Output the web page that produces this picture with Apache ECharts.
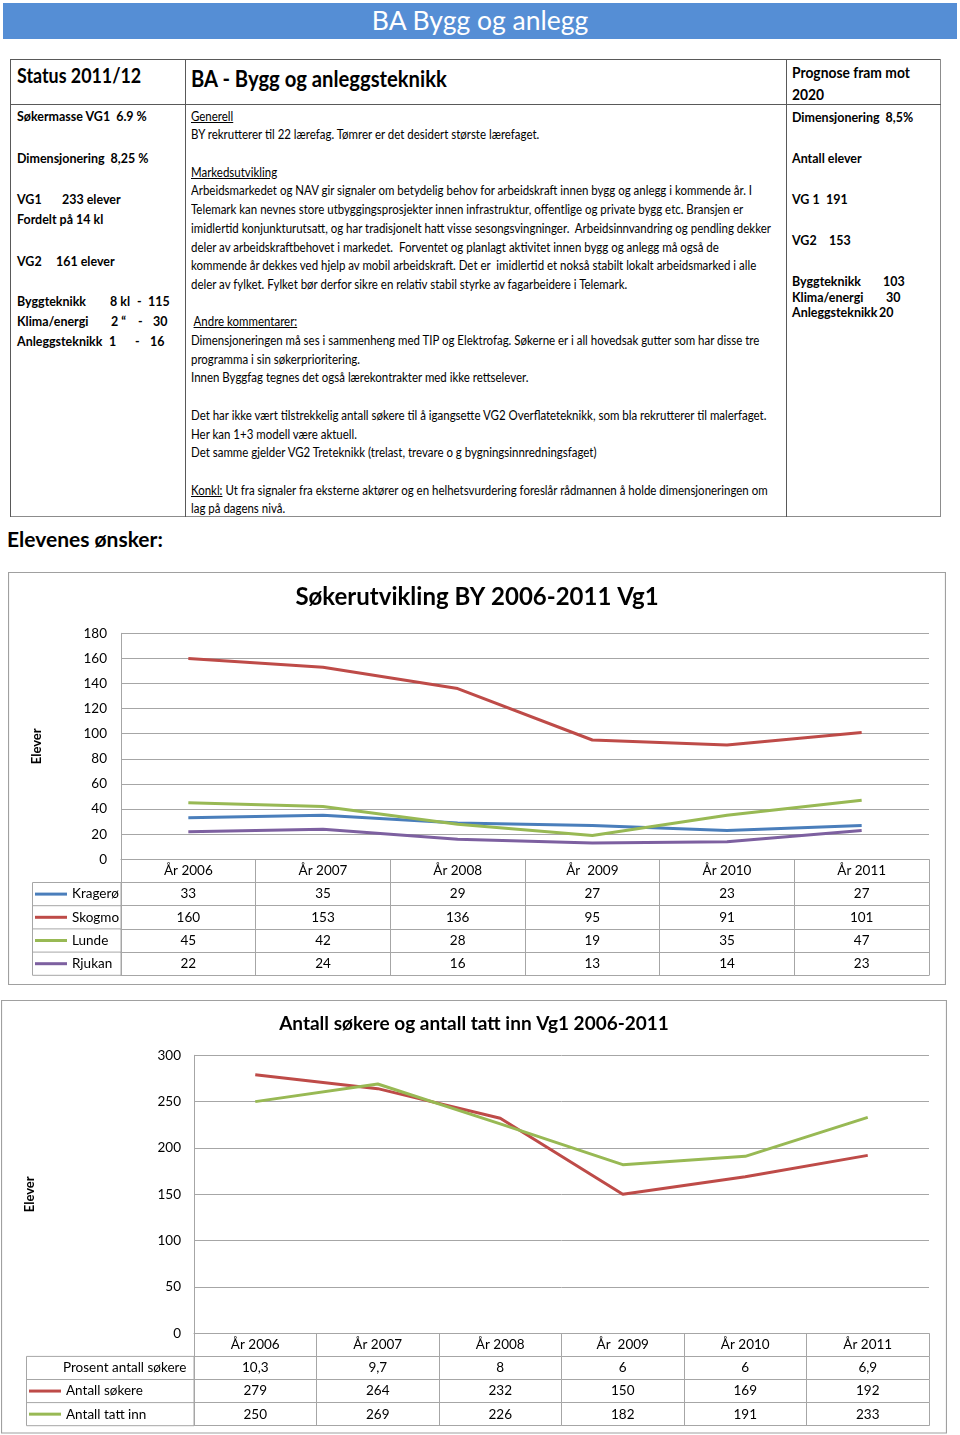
<!DOCTYPE html>
<html><head><meta charset="utf-8">
<script src="https://cdn.jsdelivr.net/npm/echarts@6/dist/echarts.min.js"></script>
<style>
html,body{margin:0;padding:0;background:#fff;}
body{width:960px;height:1435px;position:relative;overflow:hidden;}
.t{position:absolute;white-space:nowrap;font-family:Lato,'DejaVu Sans Condensed',sans-serif;color:#000;line-height:20px;height:20px;}
.b{font-weight:bold;font-size:13.8px;}
.ln{position:absolute;background:#595959;}
.mid{position:absolute;left:191px;top:106.65px;white-space:pre;font-family:Lato,'DejaVu Sans Condensed',sans-serif;font-size:13.5px;line-height:18.7px;color:#000;}
.u{text-decoration:underline;}
#banner{position:absolute;left:3px;top:3px;width:954px;height:36px;background:#558ED5;color:#fff;font-family:Lato,sans-serif;font-size:26.5px;line-height:35px;text-align:center;}
#c1{position:absolute;left:8px;top:572px;width:938px;height:413px;}
#c2{position:absolute;left:1px;top:1000px;width:946px;height:434px;}
</style>
</head><body>
<div id="banner">BA Bygg og anlegg</div>

<!-- info table borders -->
<div class="ln" style="left:10px;top:59px;width:931px;height:1px;"></div>
<div class="ln" style="left:10px;top:516px;width:931px;height:1px;background:#8c8c8c"></div>
<div class="ln" style="left:10px;top:59px;width:1px;height:458px;"></div>
<div class="ln" style="left:940px;top:59px;width:1px;height:458px;background:#8c8c8c"></div>
<div class="ln" style="left:185px;top:59px;width:1px;height:458px;"></div>
<div class="ln" style="left:786px;top:59px;width:1px;height:458px;"></div>
<div class="ln" style="left:10px;top:104px;width:931px;height:1px;"></div>

<!-- headers -->
<div class="t" id="hStatus" style="left:17px;top:62px;height:26px;line-height:26px;font-weight:bold;font-size:21px;">Status 2011/12</div>
<div class="t" id="hBA" style="left:191px;top:64px;height:28px;line-height:28px;font-weight:bold;font-size:23px;">BA - Bygg og anleggsteknikk</div>
<div class="t" id="hProg" style="left:792px;top:61px;height:44px;line-height:22px;font-weight:bold;font-size:15.5px;">Prognose fram mot<br>2020</div>

<!-- left column -->
<div class="t b" id="refB" style="left:17px;top:106px;">Søkermasse VG1&nbsp; 6.9 %</div>
<div class="t b" style="left:17px;top:148px;">Dimensjonering&nbsp; 8,25 %</div>
<div class="t b" style="left:17px;top:189px;">VG1</div><div class="t b" style="left:62px;top:189px;">233 elever</div>
<div class="t b" style="left:17px;top:209px;">Fordelt på 14 kl</div>
<div class="t b" style="left:17px;top:251px;">VG2</div><div class="t b" style="left:56px;top:251px;">161 elever</div>
<div class="t b" style="left:17px;top:291px;">Byggteknikk</div><div class="t b" style="left:110px;top:291px;">8 kl</div><div class="t b" style="left:137px;top:291px;">-</div><div class="t b" style="left:148px;top:291px;">115</div>
<div class="t b" style="left:17px;top:311px;">Klima/energi</div><div class="t b" style="left:111px;top:311px;">2 “</div><div class="t b" style="left:138px;top:311px;">-</div><div class="t b" style="left:153px;top:311px;">30</div>
<div class="t b" style="left:17px;top:331px;">Anleggsteknikk</div><div class="t b" style="left:109px;top:331px;">1</div><div class="t b" style="left:135px;top:331px;">-</div><div class="t b" style="left:150px;top:331px;">16</div>

<!-- middle column -->
<div class="mid" id="mid"><span class="u">Generell</span>
BY rekrutterer til 22 lærefag. Tømrer er det desidert største lærefaget.

<span class="u">Markedsutvikling</span>
<span id="refMid">Arbeidsmarkedet og NAV gir signaler om betydelig behov for arbeidskraft innen bygg og anlegg i kommende år. I</span>
Telemark kan nevnes store utbyggingsprosjekter innen infrastruktur, offentlige og private bygg etc. Bransjen er
imidlertid konjunkturutsatt, og har tradisjonelt hatt visse sesongsvingninger.  Arbeidsinnvandring og pendling dekker
deler av arbeidskraftbehovet i markedet.  Forventet og planlagt aktivitet innen bygg og anlegg må også de
kommende år dekkes ved hjelp av mobil arbeidskraft. Det er  imidlertid et nokså stabilt lokalt arbeidsmarked i alle
deler av fylket. Fylket bør derfor sikre en relativ stabil styrke av fagarbeidere i Telemark.

 <span class="u">Andre kommentarer:</span>
Dimensjoneringen må ses i sammenheng med TIP og Elektrofag. Søkerne er i all hovedsak gutter som har disse tre
programma i sin søkerprioritering.
Innen Byggfag tegnes det også lærekontrakter med ikke rettselever.

Det har ikke vært tilstrekkelig antall søkere til å igangsette VG2 Overflateteknikk, som bla rekrutterer til malerfaget.
Her kan 1+3 modell være aktuell.
Det samme gjelder VG2 Treteknikk (trelast, trevare o g bygningsinnredningsfaget)

<span class="u">Konkl:</span> Ut fra signaler fra eksterne aktører og en helhetsvurdering foreslår rådmannen å holde dimensjoneringen om
lag på dagens nivå.</div>

<!-- right column -->
<div class="t b" style="left:792px;top:107px;">Dimensjonering&nbsp; 8,5%</div>
<div class="t b" style="left:792px;top:148px;">Antall elever</div>
<div class="t b" style="left:792px;top:189px;">VG 1</div><div class="t b" style="left:826px;top:189px;">191</div>
<div class="t b" style="left:792px;top:230px;">VG2</div><div class="t b" style="left:829px;top:230px;">153</div>
<div class="t b" style="left:792px;top:271px;">Byggteknikk</div><div class="t b" style="left:883px;top:271px;">103</div>
<div class="t b" style="left:792px;top:286.5px;">Klima/energi</div><div class="t b" style="left:886px;top:286.5px;">30</div>
<div class="t b" style="left:792px;top:302px;">Anleggsteknikk</div><div class="t b" style="left:879px;top:302px;">20</div>

<div style="position:absolute;left:7px;top:525px;font-family:Lato,sans-serif;font-weight:bold;font-size:21px;line-height:28px;white-space:nowrap;">Elevenes ønsker:</div>

<div id="c1"></div>
<div id="c2"></div>

<script>
// ---------- data ----------
const years = ['År 2006', 'År 2007', 'År 2008', 'År  2009', 'År 2010', 'År 2011'];
const seriesNames1 = ['Kragerø', 'Skogmo', 'Lunde', 'Rjukan'];
const kragero = [33, 35, 29, 27, 23, 27];
const skogmo = [160, 153, 136, 95, 91, 101];
const lunde = [45, 42, 28, 19, 35, 47];
const rjukan = [22, 24, 16, 13, 14, 23];
const yMin1 = 0, yMax1 = 180, yStep1 = 20;

const prosentLabel = 'Prosent antall søkere';
const seriesNames2 = ['Antall søkere', 'Antall tatt inn'];
const prosent = [10.3, 9.7, 8, 6, 6, 6.9];
const antallSokere = [279, 264, 232, 150, 169, 192];
const antallTattInn = [250, 269, 226, 182, 191, 233];
const yMin2 = 0, yMax2 = 300, yStep2 = 50;

// ---------- fit narrow (Calibri-like condensed) text ----------
function fitGroup(els, refEl, target) {
  els.forEach(e => { e.style.transform = 'none'; });
  const w = refEl.offsetWidth;
  if (!w) return;
  const s = target / w;
  els.forEach(e => { e.style.transformOrigin = '0 50%'; e.style.transform = 'scaleX(' + s + ')'; });
}
function fitAll() {
  const mid = document.getElementById('mid');
  mid.style.transform = 'none';
  const wm = document.getElementById('refMid').getBoundingClientRect().width;
  if (wm) { mid.style.transformOrigin = '0 0'; mid.style.transform = 'scaleX(' + (561 / wm) + ')'; }
  fitGroup(Array.from(document.querySelectorAll('.b')), document.getElementById('refB'), 130);
  fitGroup([document.getElementById('hStatus')], document.getElementById('hStatus'), 124);
  fitGroup([document.getElementById('hBA')], document.getElementById('hBA'), 256);
  fitGroup([document.getElementById('hProg')], document.getElementById('hProg'), 118);
}
fitAll();
if (document.fonts && document.fonts.ready) document.fonts.ready.then(fitAll);

// ---------- styling ----------
const GRAY = '#a6a6a6';
const FONT = 'Lato';
const COLORS1 = ['#4A7EBB', '#BE4B48', '#98B954', '#7D60A0'];
const COLORS2 = ['#BE4B48', '#98B954'];

function tableAxis(offset, rowH, formatter, opts) {
  opts = opts || {};
  return {
    type: 'category', data: years, gridIndex: 0, position: 'bottom', offset: offset,
    boundaryGap: true, silent: true,
    axisLine: { show: true, lineStyle: { color: GRAY, width: 1 } },
    axisTick: { show: opts.tick !== false, length: rowH, interval: 0, lineStyle: { color: GRAY, width: 1 } },
    axisLabel: { show: opts.label !== false, interval: 0, margin: (rowH - 14) / 2, fontFamily: FONT, fontSize: 13.5, color: '#000', lineHeight: 14, formatter: formatter }
  };
}
function lineSeries(name, data, color) {
  return { name: name, type: 'line', data: data, symbol: 'none', smooth: false,
    lineStyle: { width: 3, color: color }, itemStyle: { color: color }, emphasis: { disabled: true } };
}

// ---------- chart 1 ----------
(function () {
  const W = 938, H = 413, ROW = 23.2;
  const gl = 113, gr = 17, gt = 61.3, gh = 226;
  const gb = H - gt - gh;
  const rows = [kragero, skogmo, lunde, rjukan];
  const xAxes = [tableAxis(0, ROW, v => v)];
  rows.forEach((r, i) => xAxes.push(tableAxis(ROW * (i + 1), ROW, (v, idx) => String(r[idx]))));
  xAxes.push(tableAxis(ROW * 5, ROW, null, { tick: false, label: false }));
  const tTop = gt + gh + ROW;
  const graphics = [
    { type: 'rect', shape: { x: 0.5, y: 0.5, width: W - 1, height: H - 1 }, style: { fill: null, stroke: '#a0a0a0', lineWidth: 1.2 }, silent: true },
    { type: 'rect', shape: { x: 24.5, y: tTop, width: gl - 24.5, height: ROW * 4 }, style: { fill: null, stroke: GRAY, lineWidth: 1 }, silent: true }
  ];
  for (let i = 1; i < 4; i++) graphics.push({ type: 'line', shape: { x1: 24.5, y1: tTop + ROW * i, x2: gl, y2: tTop + ROW * i }, style: { stroke: GRAY, lineWidth: 1 }, silent: true });
  const chart = echarts.init(document.getElementById('c1'), null, { renderer: 'canvas', width: W, height: H });
  chart.setOption({
    animation: false,
    title: { text: 'Søkerutvikling BY 2006-2011 Vg1', left: 'center', top: 13, padding: 0,
      textStyle: { fontFamily: FONT, fontWeight: 'bold', fontSize: 24, color: '#000' } },
    legend: { data: seriesNames1, orient: 'vertical', left: 27, top: tTop + ROW / 2 - 7, padding: 0,
      icon: 'rect', itemWidth: 32, itemHeight: 3, itemGap: ROW - 14,
      textStyle: { fontFamily: FONT, fontSize: 13.5, color: '#000', lineHeight: 14 }, selectedMode: false },
    grid: { left: gl, right: gr, top: gt, bottom: gb, containLabel: false },
    xAxis: xAxes,
    yAxis: { type: 'value', min: yMin1, max: yMax1, interval: yStep1,
      name: 'Elever', nameLocation: 'middle', nameGap: 78,
      nameTextStyle: { fontFamily: FONT, fontWeight: 'bold', fontSize: 13, color: '#000' },
      axisLine: { show: true, lineStyle: { color: GRAY } }, axisTick: { show: false },
      axisLabel: { margin: 14, fontFamily: FONT, fontSize: 13.5, color: '#000' },
      splitLine: { lineStyle: { color: GRAY, width: 1 } } },
    graphic: graphics,
    series: [
      lineSeries(seriesNames1[0], kragero, COLORS1[0]),
      lineSeries(seriesNames1[1], skogmo, COLORS1[1]),
      lineSeries(seriesNames1[2], lunde, COLORS1[2]),
      lineSeries(seriesNames1[3], rjukan, COLORS1[3])
    ]
  });
})();

// ---------- chart 2 ----------
(function () {
  const W = 946, H = 434, ROW = 23.1;
  const gl = 193, gr = 18, gt = 55.3, gh = 278;
  const gb = H - gt - gh;
  const fmt = v => String(v).replace('.', ',');
  const rows = [prosent.map(fmt), antallSokere, antallTattInn];
  const xAxes = [tableAxis(0, ROW, v => v)];
  rows.forEach((r, i) => xAxes.push(tableAxis(ROW * (i + 1), ROW, (v, idx) => String(r[idx]))));
  xAxes.push(tableAxis(ROW * 4, ROW, null, { tick: false, label: false }));
  const tTop = gt + gh + ROW;
  const graphics = [
    { type: 'rect', shape: { x: 0.5, y: 0.5, width: W - 1, height: H - 1.5 }, style: { fill: null, stroke: '#a0a0a0', lineWidth: 1.2 }, silent: true },
    { type: 'rect', shape: { x: 25.5, y: tTop, width: gl - 25.5, height: ROW * 3 }, style: { fill: null, stroke: GRAY, lineWidth: 1 }, silent: true },
    { type: 'text', x: 62, y: tTop + ROW / 2, style: { text: prosentLabel, fontFamily: FONT, fontSize: 13.5, fill: '#000', verticalAlign: 'middle', align: 'left' }, silent: true }
  ];
  for (let i = 1; i < 3; i++) graphics.push({ type: 'line', shape: { x1: 25.5, y1: tTop + ROW * i, x2: gl, y2: tTop + ROW * i }, style: { stroke: GRAY, lineWidth: 1 }, silent: true });
  const chart = echarts.init(document.getElementById('c2'), null, { renderer: 'canvas', width: W, height: H });
  chart.setOption({
    animation: false,
    title: { text: 'Antall søkere og antall tatt inn Vg1 2006-2011', left: 'center', top: 14, padding: 0,
      textStyle: { fontFamily: FONT, fontWeight: 'bold', fontSize: 19, color: '#000' } },
    legend: { data: seriesNames2, orient: 'vertical', left: 28, top: tTop + ROW * 1.5 - 7, padding: 0,
      icon: 'rect', itemWidth: 32, itemHeight: 3, itemGap: ROW - 14,
      textStyle: { fontFamily: FONT, fontSize: 13.5, color: '#000', lineHeight: 14 }, selectedMode: false },
    grid: { left: gl, right: gr, top: gt, bottom: gb, containLabel: false },
    xAxis: xAxes,
    yAxis: { type: 'value', min: yMin2, max: yMax2, interval: yStep2,
      name: 'Elever', nameLocation: 'middle', nameGap: 158,
      nameTextStyle: { fontFamily: FONT, fontWeight: 'bold', fontSize: 13, color: '#000' },
      axisLine: { show: true, lineStyle: { color: GRAY } }, axisTick: { show: false },
      axisLabel: { margin: 13, fontFamily: FONT, fontSize: 13.5, color: '#000' },
      splitLine: { lineStyle: { color: GRAY, width: 1 } } },
    graphic: graphics,
    series: [
      lineSeries(seriesNames2[0], antallSokere, COLORS2[0]),
      lineSeries(seriesNames2[1], antallTattInn, COLORS2[1])
    ]
  });
})();
</script>
</body></html>
